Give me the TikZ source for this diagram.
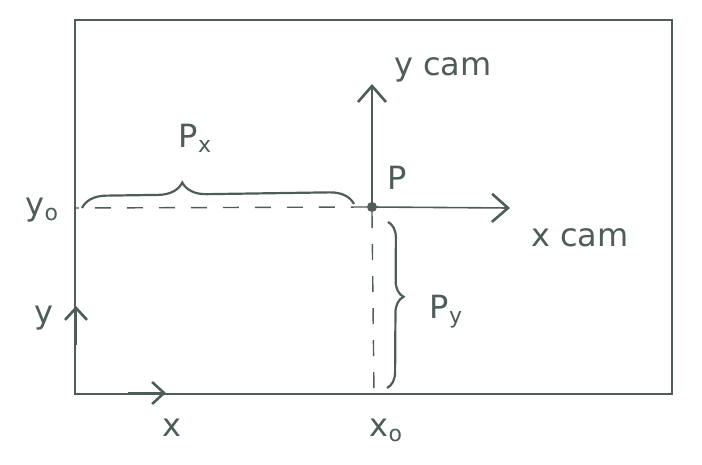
\documentclass[tikz,border=0pt]{standalone}
\usepackage{fontspec}
\setmainfont{DejaVu Sans}
\usetikzlibrary{arrows.meta,decorations.pathreplacing}
\definecolor{ink}{HTML}{4E5C5A}
\newcommand{\lowsub}[1]{\raisebox{-5pt}{\fontsize{22}{22}\selectfont #1}}
\begin{document}
\begin{tikzpicture}[x=1pt,y=-1pt,
  line/.style={draw=ink,line width=1.6pt},
  frame/.style={draw=ink,line width=1.4pt},
  guide/.style={draw=ink,line width=1.4pt,dash pattern=on 16pt off 16pt},
  brace/.style={draw=ink,line width=2.2pt,decorate},
  lbl/.style={text=ink,font=\fontsize{32}{32}\selectfont,inner sep=0pt},
  tip/.style={-{Straight Barb[length=16pt,width=28pt,line width=2.6pt]}},
  smalltip/.style={-{Straight Barb[length=12pt,width=22pt,line width=2.6pt]}}]
\useasboundingbox (0,0) rectangle (702,464);
\draw[frame] (75,20) rectangle (672,394);
% origin point
\node[circle,fill=ink,inner sep=0pt,minimum size=10pt] (P) at (372,207) {};
\coordinate (ycamend) at (372,84);
\coordinate (xcamend) at (510,208);
\draw[line,tip] (P.center) -- (ycamend);
\draw[line,tip] (P.center) -- (xcamend);
% guides
\coordinate (y0pt) at (75,208);
\coordinate (x0pt) at (374,394);
\draw[guide] (P.west) -- (y0pt);
\draw[guide] (P.south) -- (x0pt);
% braces
\coordinate (bxa) at (82,208);
\coordinate (bxb) at (354,204);
\draw[brace,decoration={brace,amplitude=24pt,aspect=0.37}] (bxa) -- (bxb);
\coordinate (bya) at (388,222);
\coordinate (byb) at (387,388);
\draw[brace,decoration={brace,amplitude=16pt,aspect=0.45}] (bya) -- (byb);
% small axis arrows on frame
\coordinate (ya) at (76,345);
\coordinate (yb) at (76,306);
\draw[line,smalltip] (ya) -- (yb);
\coordinate (xa) at (128,393);
\coordinate (xb) at (166,393);
\draw[line,smalltip] (xa) -- (xb);
% labels
\node[lbl] (lycam) at (443,70) {y cam};
\node[lbl] (lP) at (397,178) {P};
\node[lbl] (lxcam) at (580,238) {x cam};
\node[lbl] (lPx) at (195,138) {P\lowsub{x}};
\node[lbl] (ly0) at (42,210) {y\lowsub{o}};
\node[lbl] (lPy) at (446,312) {P\lowsub{y}};
\node[lbl] (ly) at (44,318) {y};
\node[lbl] (lx) at (172,428) {x};
\node[lbl] (lx0) at (386,430) {x\lowsub{o}};
\end{tikzpicture}
\end{document}
